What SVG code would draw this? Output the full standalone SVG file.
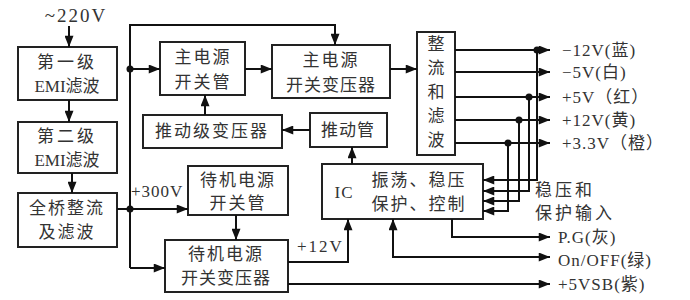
<svg xmlns="http://www.w3.org/2000/svg" width="690" height="300" viewBox="0 0 690 300">
<defs>
<marker id="a" viewBox="0 0 10 8" refX="10" refY="4" markerWidth="12" markerHeight="9" markerUnits="userSpaceOnUse" orient="auto"><path d="M0 0L10 4L0 8Z" fill="#111"/></marker>
</defs>
<style>
.b{fill:#fff;stroke:#222;stroke-width:2}
.t{font-family:"Liberation Serif","Noto Sans CJK SC",serif;font-size:17px;fill:#333;text-anchor:middle;dominant-baseline:central}
.l{font-family:"Liberation Serif","Noto Sans CJK SC",serif;font-size:17px;fill:#333;dominant-baseline:central;letter-spacing:1px}
.c path{fill:none;stroke:#111;stroke-width:2}
.c .m{marker-end:url(#a)}
.d{fill:#111}
</style>
<rect width="690" height="300" fill="#fff"/>
<text class="t" x="76" y="15" style="font-size:19px;letter-spacing:2px">~220V</text>
<g id="emi1"><rect class="b" x="18" y="47" width="99" height="53"/><text class="t" x="67" y="62" style="letter-spacing:3px">第一级</text><text class="t" x="67" y="86">EMI滤波</text></g>
<g id="emi2"><rect class="b" x="18" y="122" width="99" height="51"/><text class="t" x="67" y="136" style="letter-spacing:3px">第二级</text><text class="t" x="67" y="160">EMI滤波</text></g>
<g id="rect"><rect class="b" x="18" y="193" width="99" height="54"/><text class="t" x="67" y="208" style="letter-spacing:2px">全桥整流</text><text class="t" x="67" y="232" style="letter-spacing:2px">及滤波</text></g>
<g id="mainsw"><rect class="b" x="160" y="42" width="85" height="53"/><text class="t" x="203" y="57" style="letter-spacing:2px">主电源</text><text class="t" x="203" y="82" style="letter-spacing:2px">开关管</text></g>
<g id="maintr"><rect class="b" x="272" y="45" width="118" height="53"/><text class="t" x="331" y="60" style="letter-spacing:2px">主电源</text><text class="t" x="331" y="85" style="letter-spacing:1px">开关变压器</text></g>
<g id="filt"><rect class="b" x="417" y="32" width="38" height="123"/><text class="t" x="436" y="44">整</text><text class="t" x="436" y="68">流</text><text class="t" x="436" y="92">和</text><text class="t" x="436" y="116">滤</text><text class="t" x="436" y="140">波</text></g>
<g id="drvtr"><rect class="b" x="143" y="115" width="139" height="33"/><text class="t" x="212" y="131" style="letter-spacing:2px">推动级变压器</text></g>
<g id="drv"><rect class="b" x="310" y="113" width="77" height="34"/><text class="t" x="348" y="130" style="letter-spacing:1px">推动管</text></g>
<g id="sbsw"><rect class="b" x="188" y="166" width="100" height="49"/><text class="t" x="238" y="180" style="letter-spacing:2px">待机电源</text><text class="t" x="238" y="203" style="letter-spacing:2px">开关管</text></g>
<g id="sbtr"><rect class="b" x="165" y="240" width="123" height="52"/><text class="t" x="226" y="254" style="letter-spacing:2px">待机电源</text><text class="t" x="226" y="278" style="letter-spacing:1px">开关变压器</text></g>
<g id="ic"><rect class="b" x="322" y="164" width="161" height="55"/><text class="t" x="344" y="192" style="letter-spacing:1px">IC</text><text class="t" x="419" y="180" style="letter-spacing:2px">振荡、稳压</text><text class="t" x="419" y="204" style="letter-spacing:2px">保护、控制</text></g>
<g id="connectors" class="c">
<path class="m" d="M69 26V47"/>
<path class="m" d="M69 100V122"/>
<path class="m" d="M72 173V193"/>
<path class="m" d="M117 209H188"/>
<path class="m" d="M130 268V25H335V45"/>
<path class="m" d="M130 268H165"/>
<path class="m" d="M130 69H160"/>
<path class="m" d="M245 69H272"/>
<path class="m" d="M390 69H417"/>
<path class="m" d="M205 115V95"/>
<path class="m" d="M310 130H282"/>
<path class="m" d="M352 164V147"/>
<path class="m" d="M236 215V240"/>
<path class="m" d="M288 262H348V219"/>
<path class="m" d="M288 284H550"/>
<path class="m" d="M550 257H393V219"/>
<path class="m" d="M393 257H550"/>
<path class="m" d="M452 219V237H550"/>
<path class="m" d="M455 50H550"/>
<path class="m" d="M455 72H550"/>
<path class="m" d="M455 97H550"/>
<path class="m" d="M455 120H550"/>
<path class="m" d="M455 143H550"/>
<path class="m" d="M537 50V180H483"/>
<path class="m" d="M529 97V191H483"/>
<path class="m" d="M519 120V201H483"/>
<path class="m" d="M508 143V211H483"/>
<circle class="d" cx="130" cy="69" r="3.5"/>
<circle class="d" cx="130" cy="209" r="3.5"/>
<circle class="d" cx="537" cy="50" r="3.5"/>
<circle class="d" cx="529" cy="97" r="3.5"/>
<circle class="d" cx="519" cy="120" r="3.5"/>
<circle class="d" cx="508" cy="143" r="3.5"/>
</g>
<text class="l" x="131" y="191">+300V</text>
<text class="l" x="297" y="246" style="letter-spacing:2px">+12V</text>
<text class="l" x="562" y="50">−12V(蓝)</text>
<text class="l" x="562" y="72">−5V(白)</text>
<text class="l" x="562" y="97">+5V（红）</text>
<text class="l" x="562" y="120">+12V(黄)</text>
<text class="l" x="562" y="143">+3.3V（橙）</text>
<text class="l" x="535" y="190" style="letter-spacing:3px">稳压和</text>
<text class="l" x="535" y="213" style="letter-spacing:3px">保护输入</text>
<text class="l" x="558" y="237">P.G(灰)</text>
<text class="l" x="558" y="260">On/OFF(绿)</text>
<text class="l" x="558" y="284">+5VSB(紫)</text>
</svg>
